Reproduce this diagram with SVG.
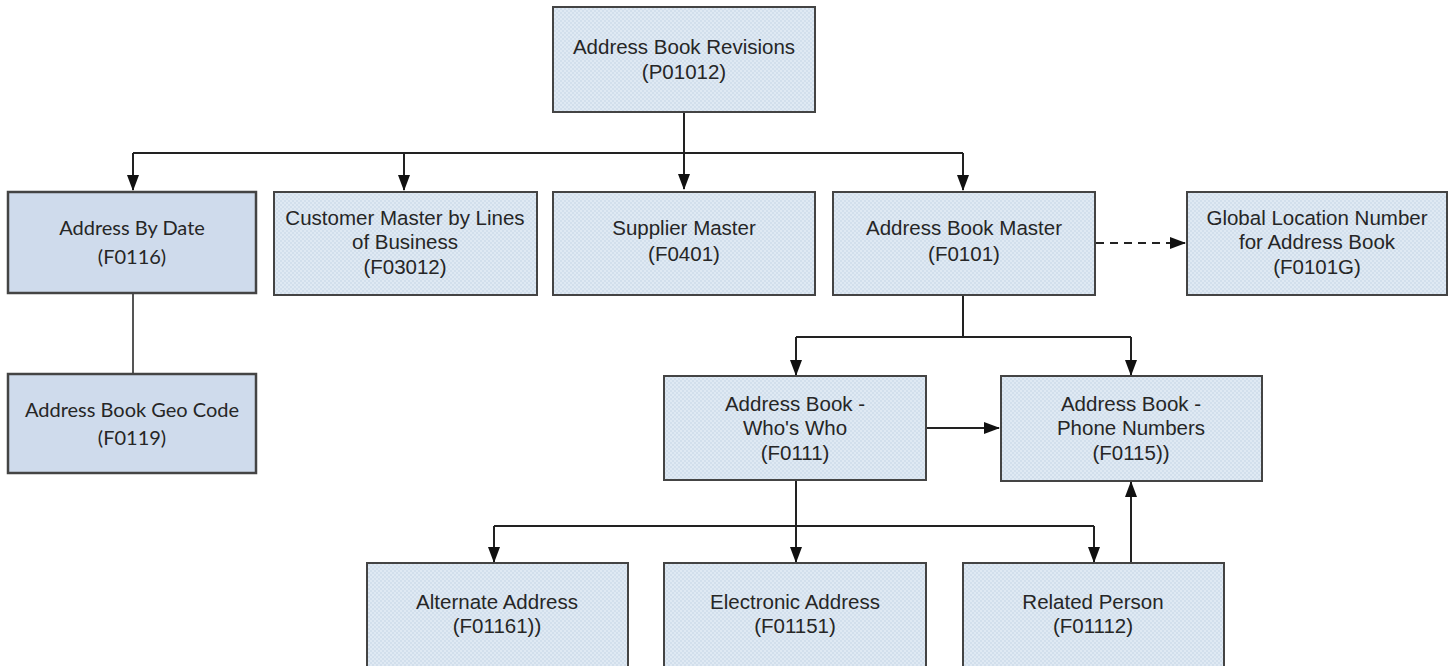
<svg xmlns="http://www.w3.org/2000/svg" width="1450" height="666" viewBox="0 0 1450 666">
<defs>
<pattern id="dots" width="4" height="4" patternUnits="userSpaceOnUse">
<rect width="4" height="4" fill="#dfe9f3"/>
<circle cx="1" cy="1" r="0.8" fill="#c3d3e5"/>
<circle cx="3" cy="3" r="0.8" fill="#c3d3e5"/>
</pattern>
<marker id="ah2" markerWidth="16" markerHeight="12" refX="15" refY="6" orient="auto" markerUnits="userSpaceOnUse" viewBox="0 0 16 12">
<path d="M0,0 L16,6 L0,12 z" fill="#111"/>
</marker>
</defs>
<style>
.box{fill:url(#dots);stroke:#444;stroke-width:2}
.solid{fill:#cfdbec;stroke:#444;stroke-width:2.5}
.t{font-family:"Liberation Sans",Arial,sans-serif;font-size:20.5px;fill:#262626;text-anchor:middle}
.c{font-family:Lato,"Open Sans",sans-serif;font-size:20px;fill:#262626;text-anchor:middle}
.ln{fill:none;stroke:#222;stroke-width:2}
.gl{fill:none;stroke:#555;stroke-width:2}
.dash{fill:none;stroke:#222;stroke-width:2;stroke-dasharray:8,6}
</style>
<rect width="1450" height="666" fill="#fff"/>
<g id="connectors">
<path class="ln" d="M684,112 V189" marker-end="url(#ah2)"/>
<path class="ln" d="M133,153 H963"/>
<path class="ln" d="M133,153 V190" marker-end="url(#ah2)"/>
<path class="ln" d="M404,153 V190" marker-end="url(#ah2)"/>
<path class="ln" d="M963,153 V190" marker-end="url(#ah2)"/>
<path class="gl" d="M133,293 V374"/>
<path class="dash" d="M1096,243 H1185" marker-end="url(#ah2)"/>
<path class="ln" d="M963,295 V337"/>
<path class="ln" d="M796,337 H1131"/>
<path class="ln" d="M796,337 V375" marker-end="url(#ah2)"/>
<path class="ln" d="M1131,337 V375" marker-end="url(#ah2)"/>
<path class="ln" d="M926,428 H999" marker-end="url(#ah2)"/>
<path class="ln" d="M796,480 V562" marker-end="url(#ah2)"/>
<path class="ln" d="M494,526 H1094"/>
<path class="ln" d="M494,526 V562" marker-end="url(#ah2)"/>
<path class="ln" d="M1094,526 V562" marker-end="url(#ah2)"/>
<path class="ln" d="M1131,563 V482" marker-end="url(#ah2)"/>
</g>
<g id="n-revisions">
<rect class="box" x="553" y="7" width="262" height="105"/>
<text class="t" x="684" y="54">Address Book Revisions</text>
<text class="t" x="684" y="79">(P01012)</text>
</g>
<g id="n-bydate">
<rect class="solid" x="8" y="192" width="248" height="101"/>
<text class="c" x="132" y="235">Address By Date</text>
<text class="c" x="132" y="264">(F0116)</text>
</g>
<g id="n-customer">
<rect class="box" x="274" y="192" width="263" height="103"/>
<text class="t" x="405" y="225">Customer Master by Lines</text>
<text class="t" x="405" y="249">of Business</text>
<text class="t" x="405" y="274">(F03012)</text>
</g>
<g id="n-supplier">
<rect class="box" x="553" y="192" width="262" height="103"/>
<text class="t" x="684" y="235">Supplier Master</text>
<text class="t" x="684" y="261">(F0401)</text>
</g>
<g id="n-abmaster">
<rect class="box" x="833" y="192" width="262" height="103"/>
<text class="t" x="964" y="235">Address Book Master</text>
<text class="t" x="964" y="261">(F0101)</text>
</g>
<g id="n-global">
<rect class="box" x="1187" y="192" width="260" height="103"/>
<text class="t" x="1317" y="225">Global Location Number</text>
<text class="t" x="1317" y="249">for Address Book</text>
<text class="t" x="1317" y="274">(F0101G)</text>
</g>
<g id="n-geocode">
<rect class="solid" x="8" y="374" width="248" height="99"/>
<text class="c" x="132" y="417">Address Book Geo Code</text>
<text class="c" x="132" y="445">(F0119)</text>
</g>
<g id="n-whoswho">
<rect class="box" x="664" y="376" width="262" height="104"/>
<text class="t" x="795" y="411">Address Book -</text>
<text class="t" x="795" y="435">Who's Who</text>
<text class="t" x="795" y="460">(F0111)</text>
</g>
<g id="n-phone">
<rect class="box" x="1001" y="376" width="261" height="105"/>
<text class="t" x="1131" y="411">Address Book -</text>
<text class="t" x="1131" y="435">Phone Numbers</text>
<text class="t" x="1131" y="460">(F0115))</text>
</g>
<g id="n-alternate">
<rect class="box" x="367" y="563" width="261" height="110"/>
<text class="t" x="497" y="609">Alternate Address</text>
<text class="t" x="497" y="633">(F01161))</text>
</g>
<g id="n-electronic">
<rect class="box" x="664" y="563" width="262" height="110"/>
<text class="t" x="795" y="609">Electronic Address</text>
<text class="t" x="795" y="633">(F01151)</text>
</g>
<g id="n-related">
<rect class="box" x="963" y="563" width="261" height="110"/>
<text class="t" x="1093" y="609">Related Person</text>
<text class="t" x="1093" y="633">(F01112)</text>
</g>
</svg>
